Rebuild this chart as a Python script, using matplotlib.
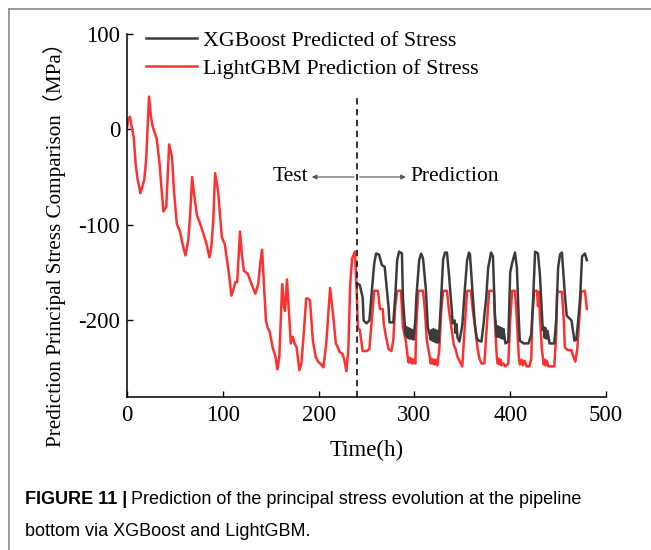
import matplotlib
matplotlib.use("Agg")
import matplotlib.pyplot as plt
from matplotlib.lines import Line2D

# LightGBM prediction of stress (MPa) vs time (h)
lgbm_t = [0, 1, 3, 5, 7, 9, 11, 14, 16, 18, 20, 23, 25, 27, 29, 31, 34, 36, 38, 41,
          44, 47, 49, 52, 55, 58, 61, 64, 66, 68, 70, 73, 76, 80, 83, 86, 88, 90, 92, 95,
          99, 102, 106, 109, 111, 113, 115, 118, 120, 122, 126, 130, 134, 137, 139, 141, 143, 145, 147, 149,
          152, 155, 157, 159, 162, 164, 165, 167, 169, 171, 173, 175, 177, 180, 182, 185, 187, 189, 191, 194,
          197, 200, 202, 205, 208, 212, 215, 218, 220, 222, 225, 227, 229, 231, 233, 235, 238, 240,
          241, 243, 245, 246, 250, 253, 256, 258, 262, 264, 267, 268, 270, 273, 276, 278, 280, 282, 286, 288,
          291, 293, 294, 295, 296, 297, 298, 299, 301, 302, 304, 309, 311, 313, 316, 317, 318, 319, 320, 321,
          322, 324, 326, 328, 330, 334, 336, 339, 341, 343, 345, 347, 350, 352, 355, 359, 361, 363, 366, 368,
          370, 373, 375, 378, 383, 384, 386, 387, 388, 389, 390, 391, 393, 395, 398, 400, 402, 405, 407, 409,
          410, 412, 413, 415, 417, 420, 422, 423, 425, 428, 429, 430, 431, 433, 435, 436, 437, 438, 440, 446,
          448, 449, 454, 456, 457, 460, 464, 465, 468, 470, 472, 474, 478, 480]
lgbm_v = [0, 10, 13, 2, -8, -36, -52, -67, -60, -53, -32, 34, 13, 2, -4, -10, -36, -62, -86, -81,
          -16, -29, -64, -99, -106, -120, -132, -116, -88, -50, -68, -90, -98, -110, -120, -134, -124, -96, -46, -64,
          -113, -120, -148, -174, -168, -160, -160, -107, -132, -148, -151, -162, -172, -162, -141, -126, -162, -200, -208, -212,
          -228, -238, -251, -238, -162, -186, -190, -157, -190, -224, -217, -224, -228, -252, -245, -207, -177, -177, -179, -221,
          -238, -244, -245, -249, -224, -166, -193, -224, -228, -233, -235, -242, -253, -231, -162, -135, -128, -176,
          -208, -210, -225, -232, -232, -230, -193, -169, -169, -188, -188, -203, -215, -230, -232, -220, -185, -169, -169, -207,
          -221, -238, -244, -239, -244, -240, -245, -241, -245, -205, -169, -169, -190, -221, -238, -245, -240, -245, -241, -246,
          -241, -247, -230, -190, -169, -169, -189, -210, -225, -230, -238, -242, -248, -215, -169, -169, -190, -204, -230, -240,
          -245, -245, -215, -169, -169, -200, -238, -245, -240, -246, -241, -247, -245, -248, -245, -200, -169, -169, -200, -238,
          -246, -241, -247, -242, -248, -248, -240, -200, -169, -169, -185, -170, -195, -230, -246, -241, -247, -242, -248, -248,
          -215, -170, -170, -200, -228, -231, -231, -235, -243, -230, -200, -170, -169, -188]

# XGBoost prediction of stress (MPa), prediction period only
xgb_t = [240, 243, 246, 247, 250, 253, 255, 258, 260, 263, 266, 269, 271, 273, 274, 278, 280, 282, 284, 287,
         288, 290, 291, 292, 293, 294, 295, 296, 297, 298, 299, 301, 302, 305, 307, 309, 312, 314, 316, 317,
         318, 319, 320, 321, 322, 323, 324, 325, 326, 328, 330, 332, 334, 336, 339, 340, 342, 343, 344, 345,
         347, 350, 352, 355, 357, 358, 361, 363, 365, 367, 370, 372, 375, 377, 380, 382, 384, 386, 387, 388,
         389, 390, 391, 392, 393, 395, 398, 400, 402, 405, 407, 409, 410, 414, 419, 422, 424, 426, 429, 431,
         433, 434, 435, 436, 437, 438, 439, 441, 446, 448, 450, 452, 454, 457, 459, 462, 464, 467, 469, 471,
         473, 475, 478, 480]
xgb_v = [-161, -163, -176, -200, -203, -200, -176, -141, -130, -131, -142, -144, -165, -186, -202, -202, -175, -137, -128, -130,
         -176, -205, -216, -207, -218, -208, -219, -209, -219, -210, -220, -200, -176, -137, -130, -135, -168, -207, -215, -220,
         -210, -221, -209, -222, -210, -223, -211, -223, -212, -175, -136, -129, -129, -151, -189, -203, -200, -213, -204, -218,
         -222, -205, -176, -137, -129, -131, -175, -203, -218, -221, -222, -205, -176, -145, -129, -133, -193, -217, -206, -217,
         -207, -218, -208, -219, -209, -224, -222, -150, -140, -129, -145, -200, -221, -224, -224, -215, -176, -128, -130, -152,
         -190, -210, -207, -218, -208, -219, -211, -224, -224, -200, -145, -131, -129, -172, -195, -198, -200, -221, -220, -200,
         -176, -133, -130, -137]

split_t = 240
legend_labels = ["XGBoost Predicted of Stress", "LightGBM Prediction of Stress"]
x_ticks = [0, 100, 200, 300, 400, 500]
y_ticks = [100, 0, -100, -200]

plt.rcParams['font.family'] = ['Liberation Serif', 'Noto Sans CJK SC']
plt.rcParams['axes.unicode_minus'] = False

W, H = 651, 550
fig = plt.figure(figsize=(W / 100, H / 100), dpi=100)
ax = fig.add_axes([127 / W, 1 - 397 / H, (606 - 127) / W, (397 - 33.5) / H])

red_line, = ax.plot(lgbm_t, lgbm_v, color='#ff3030', lw=1.8)
black_line, = ax.plot(xgb_t, xgb_v, color='#3c3c3c', lw=1.8)

# test / prediction split
ax.axvline(split_t, ymin=0, ymax=(36 + 280) / 380, color='#222222', lw=1.3, ls=(0, (3.5, 2.5)))
ax.annotate('', xy=(190, -50), xytext=(split_t, -50),
            arrowprops=dict(arrowstyle='-|>', color='#555555', lw=0.8, mutation_scale=7))
ax.annotate('', xy=(294, -50), xytext=(split_t, -50),
            arrowprops=dict(arrowstyle='-|>', color='#555555', lw=0.8, mutation_scale=7))
ax.text(189, -50, 'Test', ha='right', va='center', fontsize=15.5)
ax.text(296, -50, 'Prediction', ha='left', va='center', fontsize=15.5)

ax.set_xlim(0, 500)
ax.set_ylim(-280, 100)
ax.set_xticks(x_ticks)
ax.set_yticks(y_ticks)
ax.tick_params(direction='in', length=4, width=1, labelsize=16.5)
ax.tick_params(axis='x', pad=6)
ax.tick_params(axis='y', pad=5)
for side in ['top', 'right']:
    ax.spines[side].set_visible(False)
for side in ['left', 'bottom']:
    ax.spines[side].set_linewidth(1.1)

ax.set_xlabel('Time(h)', fontsize=16.5, labelpad=10)
ax.set_ylabel('Prediction Principal Stress Comparison（MPa）', fontsize=15.2)
ax.yaxis.set_label_coords(-0.127, 0.433)

ax.legend([black_line, red_line], legend_labels, loc='upper left', bbox_to_anchor=(0.04, 1.008),
          frameon=False, fontsize=15.8, handlelength=2.3, handletextpad=0.3,
          labelspacing=0.33, borderpad=0, borderaxespad=0)

# page frame (left and top)
fig.add_artist(Line2D([9 / W, 9 / W], [0, 1 - 9 / H], color='#8a8a8a', lw=1.2))
fig.add_artist(Line2D([9 / W, 1], [1 - 9 / H, 1 - 9 / H], color='#8a8a8a', lw=1.2))

# caption
cap_font = ['Liberation Sans', 'DejaVu Sans']
t1 = fig.text(25 / W, 1 - 499 / H, 'FIGURE 11 |', family=cap_font, fontweight='bold',
              fontsize=13, va='center')
fig.canvas.draw()
bb = t1.get_window_extent(renderer=fig.canvas.get_renderer())
fig.text(bb.x1 / W + 4 / W, 1 - 499 / H,
         'Prediction of the principal stress evolution at the pipeline',
         family=cap_font, fontsize=13, va='center')
fig.text(25 / W, 1 - 531 / H, 'bottom via XGBoost and LightGBM.',
         family=cap_font, fontsize=13, va='center')

fig.savefig('out.png', dpi=100)
